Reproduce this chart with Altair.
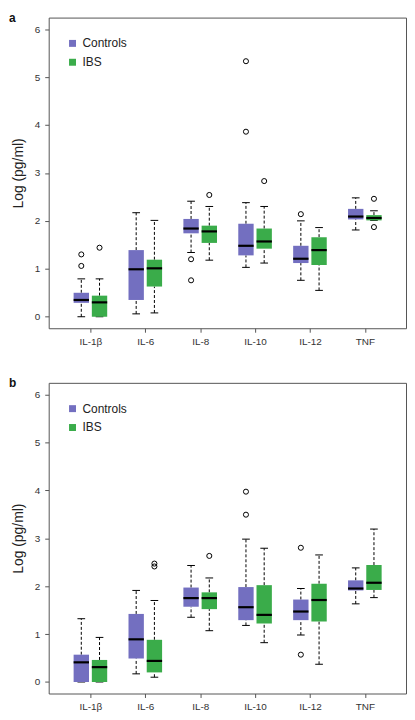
import altair as alt
import pandas as pd

cats = ["IL-1β", "IL-6", "IL-8", "IL-10", "IL-12", "TNF"]
groups = ["Controls", "IBS"]
colors = ["#736fc0", "#3aac4a"]

# Panel a
a_ctrl_low = [0.00, 0.06, 1.34, 1.03, 0.76, 1.81]
a_ctrl_q1 = [0.29, 0.35, 1.74, 1.28, 1.12, 2.03]
a_ctrl_med = [0.35, 0.99, 1.84, 1.48, 1.21, 2.09]
a_ctrl_q3 = [0.50, 1.39, 2.04, 1.94, 1.48, 2.25]
a_ctrl_high = [0.79, 2.17, 2.41, 2.38, 2.00, 2.48]
a_ctrl_out = [[1.06, 1.30], [], [1.20, 0.76], [3.86, 5.33], [2.14], []]

a_ibs_low = [0.00, 0.08, 1.18, 1.12, 0.55, 2.01]
a_ibs_q1 = [0.00, 0.63, 1.54, 1.42, 1.08, 2.01]
a_ibs_med = [0.30, 1.01, 1.78, 1.57, 1.39, 2.06]
a_ibs_q3 = [0.44, 1.19, 1.90, 1.84, 1.66, 2.12]
a_ibs_high = [0.79, 2.01, 2.30, 2.30, 1.86, 2.21]
a_ibs_out = [[1.44], [], [2.54], [2.83], [], [2.46, 1.87]]

# Panel b
b_ctrl_low = [0.00, 0.17, 1.35, 1.18, 0.98, 1.63]
b_ctrl_q1 = [0.00, 0.49, 1.57, 1.29, 1.29, 1.91]
b_ctrl_med = [0.41, 0.89, 1.75, 1.56, 1.47, 1.95]
b_ctrl_q3 = [0.57, 1.42, 1.97, 1.98, 1.72, 2.12]
b_ctrl_high = [1.32, 1.91, 2.43, 2.98, 1.95, 2.38]
b_ctrl_out = [[], [], [], [3.49, 3.97], [2.80, 0.57], []]

b_ibs_low = [0.00, 0.10, 1.07, 0.82, 0.37, 1.76]
b_ibs_q1 = [0.00, 0.20, 1.52, 1.22, 1.26, 1.92]
b_ibs_med = [0.31, 0.44, 1.75, 1.40, 1.71, 2.07]
b_ibs_q3 = [0.46, 0.88, 1.87, 2.02, 2.05, 2.44]
b_ibs_high = [0.93, 1.70, 2.17, 2.79, 2.65, 3.19]
b_ibs_out = [[], [2.41, 2.47], [2.63], [], [], []]

OFFSET = 0.166
HALF_BOX = 0.14
HALF_CAP = 0.07


def build(stats):
    rows, outs = [], []
    for g, st in zip(groups, stats):
        off = -OFFSET if g == "Controls" else OFFSET
        low, q1, med, q3, high, out = st
        for i, c in enumerate(cats):
            pos = i + 1 + off
            rows.append(dict(cat=c, group=g, pos=pos,
                             left=pos - HALF_BOX, right=pos + HALF_BOX,
                             capl=pos - HALF_CAP, capr=pos + HALF_CAP,
                             low=low[i], q1=q1[i], med=med[i], q3=q3[i], high=high[i]))
            for o in out[i]:
                outs.append(dict(group=g, pos=pos, val=o))
    return pd.DataFrame(rows), pd.DataFrame(outs)


label_expr = "[" + ",".join("'%s'" % c for c in cats) + "][datum.value - 1]"
x_scale = alt.Scale(domain=[0.24, 6.75], nice=False, zero=False)
y_scale = alt.Scale(domain=[-0.24, 6.24], nice=False, zero=False)
x_axis = alt.Axis(values=[1, 2, 3, 4, 5, 6], labelExpr=label_expr, grid=False, domain=False,
                  tickSize=4, tickColor="#555", labelFontSize=10, labelColor="#333",
                  labelPadding=4, title=None)
y_axis = alt.Axis(values=[0, 1, 2, 3, 4, 5, 6], grid=False, domain=False, tickSize=4,
                  tickColor="#555", labelFontSize=10, labelColor="#333", labelPadding=5,
                  title="Log (pg/ml)", titleFontSize=14, titleFontWeight="normal",
                  titleColor="#222", titlePadding=9)


def panel(stats, letter):
    df, outdf = build(stats)
    base = alt.Chart(df)
    X = lambda f: alt.X(f + ":Q", scale=x_scale, axis=x_axis)
    Y = lambda f: alt.Y(f + ":Q", scale=y_scale, axis=y_axis)
    whisk_up = base.mark_rule(color="black", strokeWidth=1, strokeDash=[3, 2]).encode(
        x=X("pos"), y=Y("q3"), y2="high")
    whisk_dn = base.mark_rule(color="black", strokeWidth=1, strokeDash=[3, 2]).encode(
        x=X("pos"), y=Y("low"), y2="q1")
    cap_up = base.mark_rule(color="black", strokeWidth=1).encode(
        x=X("capl"), x2="capr", y=Y("high"))
    cap_dn = base.mark_rule(color="black", strokeWidth=1).encode(
        x=X("capl"), x2="capr", y=Y("low"))
    boxes = base.mark_rect().encode(
        x=X("left"), x2="right", y=Y("q1"), y2="q3",
        color=alt.Color("group:N", scale=alt.Scale(domain=groups, range=colors),
                        legend=alt.Legend(title=None, orient="none", legendX=18, legendY=20,
                                          symbolType="square", symbolSize=49,
                                          symbolStrokeWidth=0, labelFontSize=12,
                                          labelColor="#222", rowPadding=7, padding=0,
                                          labelOffset=4)))
    medians = base.mark_rule(color="black", strokeWidth=2.2).encode(
        x=X("left"), x2="right", y=Y("med"))
    outliers = alt.Chart(outdf).mark_point(shape="circle", filled=False, color="black",
                                           size=26, strokeWidth=1, opacity=1).encode(
        x=X("pos"), y=Y("val"))
    return alt.layer(whisk_up, whisk_dn, cap_up, cap_dn, boxes, medians, outliers).properties(
        width=360, height=313,
        title=alt.Title(letter, anchor="start", frame="group", dx=-40, fontSize=12,
                        fontWeight="bold", color="#111", offset=-7))


pa = panel([(a_ctrl_low, a_ctrl_q1, a_ctrl_med, a_ctrl_q3, a_ctrl_high, a_ctrl_out),
            (a_ibs_low, a_ibs_q1, a_ibs_med, a_ibs_q3, a_ibs_high, a_ibs_out)], "a")
pb = panel([(b_ctrl_low, b_ctrl_q1, b_ctrl_med, b_ctrl_q3, b_ctrl_high, b_ctrl_out),
            (b_ibs_low, b_ibs_q1, b_ibs_med, b_ibs_q3, b_ibs_high, b_ibs_out)], "b")

chart = alt.vconcat(pa, pb, spacing=29).resolve_scale(color="independent").resolve_legend(
    color="independent").configure(font="Liberation Sans", padding=0).configure_view(
    stroke="#555", strokeWidth=1)

chart.save("out.html", embed_options={"renderer": "svg", "actions": False})
